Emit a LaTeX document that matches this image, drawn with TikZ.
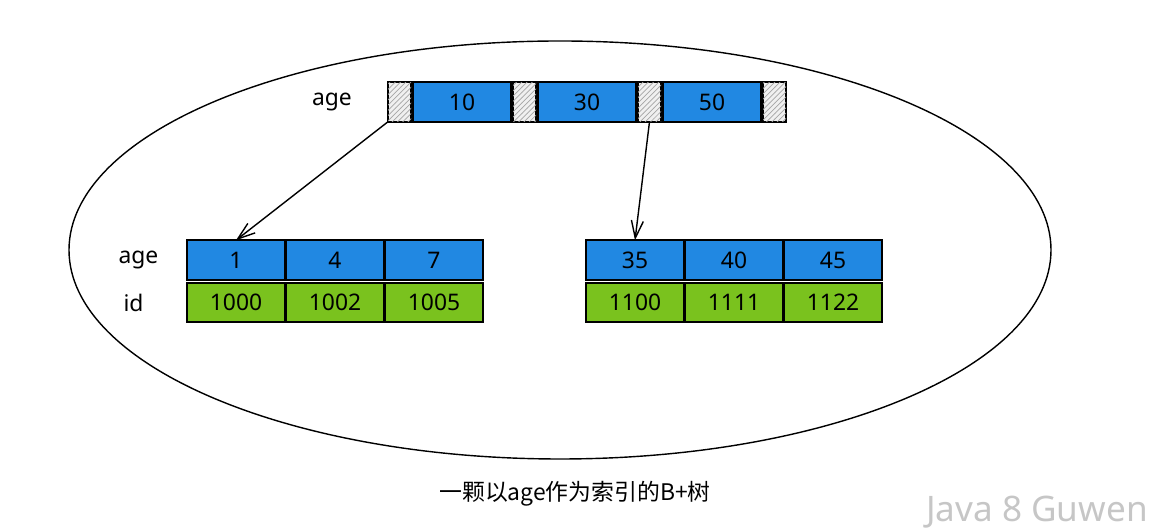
\documentclass[tikz,border=0pt]{standalone}
\usepackage{fontspec}
\setmainfont{Noto Sans}
\newfontfamily\cjk{Noto Sans CJK SC}
\usepackage{xcolor}
\usetikzlibrary{arrows.meta,positioning,patterns}

\definecolor{keyblue}{RGB}{33,136,226}
\definecolor{idgreen}{RGB}{122,194,30}

\begin{document}
\begin{tikzpicture}[
    cell/.style={draw, line width=1.1pt, fill=#1, inner sep=0pt, outer sep=0pt,
                 minimum width=1.96cm, minimum height=0.79cm,
                 font=\fontsize{13}{15}\selectfont},
    cell/.default=keyblue,
    ptr/.style={draw, line width=1.1pt, fill=gray!12, inner sep=0pt, outer sep=0pt,
                minimum width=0.46cm, minimum height=0.79cm,
                postaction={pattern=north east lines, pattern color=gray!70}},
    lbl/.style={font=\fontsize{13}{15}\selectfont},
    arr/.style={-{Straight Barb[length=3.5mm, width=2.4mm]}, line width=0.8pt},
  ]
  \useasboundingbox (0,0) rectangle (23.14,10.6);

  % outer ellipse
  \draw[line width=0.8pt] (11.2,5.6) ellipse [x radius=9.82, y radius=4.18];

  % Root node
  \node[ptr] (h0) at (7.99,8.56) {};
  \node[cell, right=0.04 of h0] (k10) {10};
  \node[ptr, right=0.04 of k10] (h1) {};
  \node[cell, right=0.04 of h1] (k30) {30};
  \node[ptr, right=0.04 of k30] (h2) {};
  \node[cell, right=0.04 of h2] (k50) {50};
  \node[ptr, right=0.04 of k50] (h3) {};
  \node[lbl, left=0.6 of h0] (rootlbl) {age};

  % Left leaf
  \node[cell] (a1) at (4.72,5.4) {1};
  \node[cell, right=0.02 of a1] (a4) {4};
  \node[cell, right=0.02 of a4] (a7) {7};
  \node[cell=idgreen, below=0.06 of a1] (i1000) {1000};
  \node[cell=idgreen, below=0.06 of a4] (i1002) {1002};
  \node[cell=idgreen, below=0.06 of a7] (i1005) {1005};
  \node[lbl, left=0.45 of a1] (agelbl) {age};
  \node[lbl, anchor=west] (idlbl) at ([xshift=0.1cm]i1000.west -| agelbl.west) {id};

  % Right leaf
  \node[cell] (b35) at (12.7,5.4) {35};
  \node[cell, right=0.02 of b35] (b40) {40};
  \node[cell, right=0.02 of b40] (b45) {45};
  \node[cell=idgreen, below=0.06 of b35] (i1100) {1100};
  \node[cell=idgreen, below=0.06 of b40] (i1111) {1111};
  \node[cell=idgreen, below=0.06 of b45] (i1122) {1122};

  % Pointers
  \draw[arr] (h0.south west) -- (a1.north);
  \draw[arr] (h2.south) -- (b35.north);

  % Caption
  \node[font=\cjk\fontsize{13}{15}\selectfont] (caption) at (11.5,0.72) {一颗以age作为索引的B+树};
  \node[font=\fontsize{20}{22}\selectfont, text=gray!45, anchor=east] (mark) at (23.08,0.36) {Java 8 Guwen};
\end{tikzpicture}
\end{document}
